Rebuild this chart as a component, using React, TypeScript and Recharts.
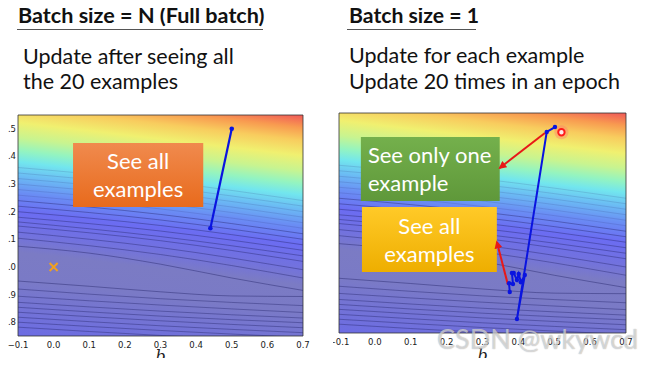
import { ComposedChart, Line, Scatter, XAxis, YAxis, ReferenceArea, Label } from 'recharts'

// axes
const xTicks = [-0.1, 0, 0.1, 0.2, 0.3, 0.4, 0.5, 0.6, 0.7]
const yTicks = [0.8, 0.9, 1.0, 1.1, 1.2, 1.3, 1.4, 1.5]
const bDomain = [-0.1, 0.7]
const wDomain = [0.75, 1.55]

// contour lines of the loss surface, w read at b = -0.1, 0.3, 0.7
const contourB = [-0.1, 0.3, 0.7]
const contourLeft = [1.36, 1.34, 1.32, 1.3, 1.28, 1.26, 1.24, 1.22, 1.2, 1.18, 1.163, 1.148, 1.126, 1.104,
  0.92, 0.894, 0.872, 0.854, 0.836, 0.818, 0.8, 0.782]
const contourMid = [1.31, 1.29, 1.27, 1.25, 1.23, 1.21, 1.19, 1.17, 1.15, 1.13, 1.11, 1.095, 1.07, 1.045,
  0.885, 0.862, 0.84, 0.822, 0.805, 0.787, 0.77, 0.752]
const contourRight = [1.24, 1.22, 1.2, 1.18, 1.16, 1.14, 1.12, 1.1, 1.08, 1.06, 1.04, 1.02, 0.99, 0.96,
  0.86, 0.835, 0.815, 0.798, 0.78, 0.762, 0.745, 0.73]

// the flat valley around the minimum
const ellipseB = [-0.1, 0.1, 0.3, 0.5, 0.7]
const ellipseTop = [1.075, 1.05, 1.01, 0.96, 0.915]
const ellipseBottom = [0.949, 0.93, 0.91, 0.895, 0.893]

// full batch: one step
const fullB = [0.5, 0.44]
const fullW = [1.5, 1.14]

// batch size 1: one epoch of updates
const sgdB = [0.502, 0.479, 0.396, 0.418, 0.407, 0.401, 0.396, 0.387, 0.382, 0.385, 0.374, 0.376]
const sgdW = [1.499, 1.481, 0.801, 0.961, 0.935, 0.965, 0.943, 0.968, 0.968, 0.928, 0.931, 0.899]

const minimumB = [0]
const minimumW = [1.0]
const startB = [0.52]
const startW = [1.48]

const arrowOneB = [0.474, 0.348]
const arrowOneW = [1.477, 1.35]
const arrowTwoB = [0.371, 0.34]
const arrowTwoW = [0.925, 1.081]

const pts = (bs: number[], ws: number[]) => bs.map((b, i) => ({ b, w: ws[i] }))

const contours = contourLeft.map((l, i) => pts(contourB, [l, contourMid[i], contourRight[i]]))
const ellipse = [pts(ellipseB, ellipseTop), pts(ellipseB, ellipseBottom)]

const tickFont = { fontSize: 8.5, fill: '#1a1a1a', fontFamily: 'DejaVu Sans' }
const fmtB = (v: number) => (v < 0 ? '\u2212' : '') + Math.abs(v).toFixed(1)

const yTick = (p: any) => (
  <text x={16} y={p.y} dy={3} textAnchor="end" {...tickFont}>
    {Number(p.payload.value).toFixed(1)}
  </text>
)

// "b" sits a fixed distance under the plot frame
const bTitle = (drop: number) => (props: any) => {
  const { x, y, width } = props.viewBox
  return (
    <text x={x + width / 2} y={y + drop} textAnchor="middle" fontSize={16}
      fontFamily="DejaVu Serif" fontStyle="italic" fill="#222">
      b
    </text>
  )
}

const boxLabel = (lines: string[], anchor: 'middle' | 'start') => (props: any) => {
  const { x, y, width, height } = props.viewBox
  const tx = anchor === 'middle' ? x + width / 2 : x + 7
  const lh = 28
  const y0 = y + height / 2 - lh / 2 + 8
  return (
    <text textAnchor={anchor} fill="#fff" fontFamily="Lato" fontSize={22}>
      {lines.map((l, i) => (
        <tspan key={i} x={tx} y={y0 + i * lh}>
          {l}
        </tspan>
      ))}
    </text>
  )
}

function Defs({ id }: { id: string }) {
  return (
    <defs>
      <linearGradient id={`${id}-loss`} x1="0" y1="1" x2="0.169" y2="-0.125">
        <stop offset="0" stopColor="#6c6ce4" />
        <stop offset="0.22" stopColor="#7a7ac6" />
        <stop offset="0.33" stopColor="#7b7bc4" />
        <stop offset="0.4" stopColor="#7272de" />
        <stop offset="0.49" stopColor="#6b6cf2" />
        <stop offset="0.565" stopColor="#6a8ef4" />
        <stop offset="0.63" stopColor="#6bbcf4" />
        <stop offset="0.685" stopColor="#72e6ee" />
        <stop offset="0.73" stopColor="#94f4c0" />
        <stop offset="0.78" stopColor="#c8f490" />
        <stop offset="0.84" stopColor="#f0f070" />
        <stop offset="0.9" stopColor="#f8cc5e" />
        <stop offset="0.95" stopColor="#f89a50" />
        <stop offset="1" stopColor="#f05858" />
      </linearGradient>
      <linearGradient id={`${id}-orange`} x1="0" y1="0" x2="0" y2="1">
        <stop offset="0" stopColor="#f08a4e" />
        <stop offset="1" stopColor="#e86a1c" />
      </linearGradient>
      <linearGradient id={`${id}-green`} x1="0" y1="0" x2="0" y2="1">
        <stop offset="0" stopColor="#74b04c" />
        <stop offset="1" stopColor="#5f983a" />
      </linearGradient>
      <linearGradient id={`${id}-yellow`} x1="0" y1="0" x2="0" y2="1">
        <stop offset="0" stopColor="#ffca28" />
        <stop offset="1" stopColor="#eeae00" />
      </linearGradient>
      <marker id={`${id}-arrow`} viewBox="0 0 10 10" refX="8" refY="5" markerWidth="4" markerHeight="4" orient="auto">
        <path d="M0,0 L10,5 L0,10 z" fill="#e81818" />
      </marker>
    </defs>
  )
}

function surface(id: string) {
  return [
    <ReferenceArea key="bg" x1={-0.1} x2={0.7} y1={0.75} y2={1.55} fill={`url(#${id}-loss)`} fillOpacity={1}
      stroke="#333" strokeWidth={0.8} zIndex={10} />,
    ...contours.map((c, i) => (
      <Line key={`c${i}`} data={c} dataKey="w" type="monotone" stroke="#2a2a70"
        strokeOpacity={contourLeft[i] > 1.24 ? 0.2 : 0.55} strokeWidth={0.8} dot={false}
        isAnimationActive={false} zIndex={20} />
    )),
    ...ellipse.map((c, i) => (
      <Line key={`e${i}`} data={c} dataKey="w" type="monotone" stroke="#2a2a70" strokeOpacity={0.6}
        strokeWidth={0.8} dot={false} isAnimationActive={false} zIndex={20} />
    )),
  ]
}

const xMark = (p: any) => (
  <g stroke="#f0a020" strokeWidth={2}>
    <line x1={p.cx - 4} y1={p.cy - 4} x2={p.cx + 4} y2={p.cy + 4} />
    <line x1={p.cx - 4} y1={p.cy + 4} x2={p.cx + 4} y2={p.cy - 4} />
  </g>
)

const ring = (p: any) => (
  <g>
    <circle cx={p.cx} cy={p.cy} r={7} fill="#ff7070" fillOpacity={0.35} />
    <circle cx={p.cx} cy={p.cy} r={3.2} fill="#ffe8e8" stroke="#ff1a1a" strokeWidth={2} />
  </g>
)

function LeftPanel() {
  return (
    <ComposedChart width={320} height={266} margin={{ top: 15, right: 17, bottom: 0, left: 0 }}>
      <Defs id="l" />
      <XAxis type="number" dataKey="b" domain={bDomain} ticks={xTicks} allowDataOverflow interval={0}
        tickFormatter={fmtB} tick={tickFont} tickLine={false} axisLine={false} tickSize={0} tickMargin={6}
        height={30}>
        <Label content={bTitle(26)} />
      </XAxis>
      <YAxis type="number" dataKey="w" domain={wDomain} ticks={yTicks} allowDataOverflow interval={0}
        tick={yTick} tickLine={false} axisLine={false} tickSize={0} width={18} />
      {surface('l')}
      <ReferenceArea x1={0.0545} x2={0.42} y1={1.217} y2={1.449} fill="url(#l-orange)" fillOpacity={1}
        zIndex={30} label={boxLabel(['See all', 'examples'], 'middle')} />
      <Line data={pts(fullB, fullW)} dataKey="w" stroke="#0a14e0" strokeWidth={2.2}
        dot={{ r: 2.3, fill: '#0a14e0', stroke: '#0a14e0', strokeWidth: 0 }} isAnimationActive={false} zIndex={40} />
      <Scatter data={pts(minimumB, minimumW)} shape={xMark} isAnimationActive={false} zIndex={50} />
    </ComposedChart>
  )
}

function RightPanel() {
  return (
    <ComposedChart width={314} height={266} margin={{ top: 13, right: 21, bottom: 0, left: 6 }}>
      <Defs id="r" />
      <XAxis type="number" dataKey="b" domain={bDomain} ticks={xTicks} allowDataOverflow interval={0}
        tickFormatter={fmtB} tick={tickFont} tickLine={false} axisLine={false} tickSize={0} tickMargin={6}
        height={33}>
        <Label content={bTitle(28)} />
      </XAxis>
      <YAxis type="number" dataKey="w" domain={wDomain} ticks={yTicks} allowDataOverflow hide width={0} />
      {surface('r')}
      <ReferenceArea x1={-0.039} x2={0.348} y1={1.23} y2={1.463} fill="url(#r-green)" fillOpacity={1}
        zIndex={30} label={boxLabel(['See only one', 'example'], 'start')} />
      <ReferenceArea x1={-0.036} x2={0.34} y1={0.972} y2={1.208} fill="url(#r-yellow)" fillOpacity={1}
        zIndex={30} label={boxLabel(['See all', 'examples'], 'middle')} />
      <Line data={pts(arrowOneB, arrowOneW)} dataKey="w" stroke="#e81818" strokeWidth={2} dot={false}
        markerEnd="url(#r-arrow)" isAnimationActive={false} zIndex={40} />
      <Line data={pts(arrowTwoB, arrowTwoW)} dataKey="w" stroke="#e81818" strokeWidth={2} dot={false}
        markerEnd="url(#r-arrow)" isAnimationActive={false} zIndex={40} />
      <Line data={pts(sgdB, sgdW)} dataKey="w" stroke="#0a14e0" strokeWidth={2}
        dot={{ r: 2.2, fill: '#0a14e0', stroke: '#0a14e0', strokeWidth: 0 }} isAnimationActive={false} zIndex={45} />
      <Scatter data={pts(startB, startW)} shape={ring} isAnimationActive={false} zIndex={50} />
    </ComposedChart>
  )
}

export default function App() {
  return (
    <div style={{ position: 'relative', width: 647, height: 366, margin: -8, background: '#fff', overflow: 'hidden' }}>
      <svg width={647} height={100} style={{ position: 'absolute', left: 0, top: 0 }}>
        <g fontFamily="Lato" fill="#111">
          <text x={18} y={23} fontSize={21.6} fontWeight={700}>Batch size = N (Full batch)</text>
          <line x1={17} x2={263} y1={29.5} y2={29.5} stroke="#555" strokeWidth={1} />
          <text x={349} y={23} fontSize={21.2} fontWeight={700}>Batch size = 1</text>
          <line x1={347} x2={476} y1={29.5} y2={29.5} stroke="#555" strokeWidth={1} />
          <text x={23} y={64} fontSize={21.5}>Update after seeing all</text>
          <text x={23} y={89} fontSize={21.5}>the 20 examples</text>
          <text x={349} y={63} fontSize={21.5}>Update for each example</text>
          <text x={349} y={89} fontSize={21.5}>Update 20 times in an epoch</text>
        </g>
      </svg>
      <div style={{ position: 'absolute', left: 0, top: 100 }}>
        <LeftPanel />
      </div>
      <div style={{ position: 'absolute', left: 333, top: 100, width: 314, height: 266, overflow: 'hidden' }}>
        <RightPanel />
      </div>
      <div style={{ position: 'absolute', left: 437, top: 322, fontFamily: 'Lato', fontSize: 27, color: 'rgba(255,255,255,0.55)',
        textShadow: '0 0 1px rgba(90,90,90,0.6)', whiteSpace: 'nowrap', pointerEvents: 'none' }}>
        CSDN @wkywcd
      </div>
    </div>
  )
}
